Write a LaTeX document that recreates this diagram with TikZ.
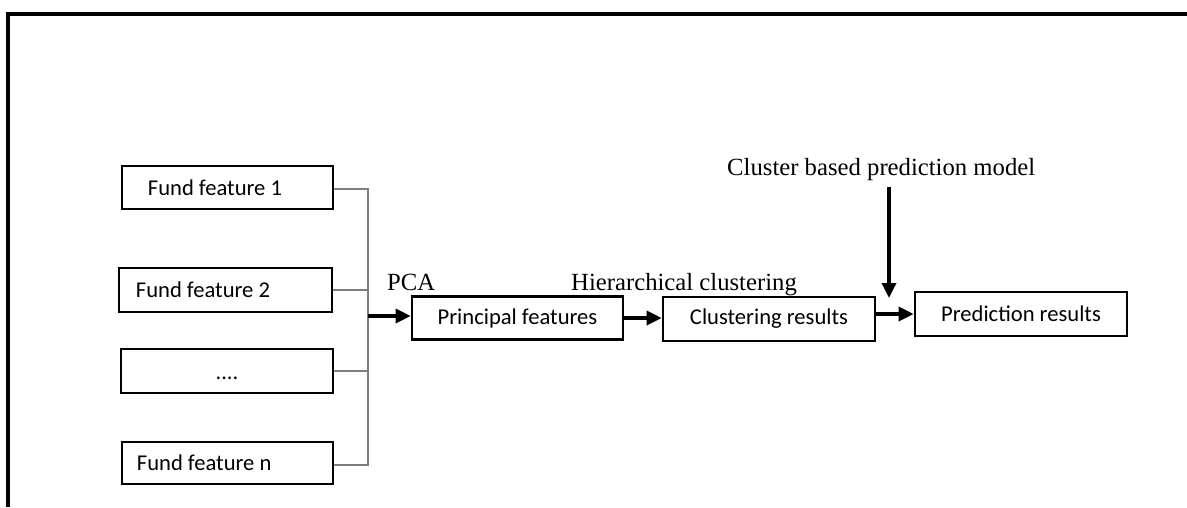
\documentclass[tikz,border=0pt]{standalone}
\usepackage{fontspec}
\setmainfont{Liberation Serif}
\newfontfamily\boxfont{Carlito}
\usetikzlibrary{arrows.meta}
\definecolor{bus}{HTML}{7F7F7F}
\tikzset{
  box/.style={draw=black, line width=2.6pt, fill=white, inner sep=0pt},
  boxtext/.style={font=\boxfont\fontsize{22.6}{26}\selectfont, inner sep=0pt},
  lbl/.style={font=\fontsize{24.7}{28}\selectfont, inner sep=0pt, anchor=base west},
  busline/.style={draw=bus, line width=1.6pt},
  arr/.style={draw=black, line width=3.4pt, -{Triangle[length=15pt,width=14pt]}},
}
\begin{document}
\begin{tikzpicture}[x=1pt,y=-1pt]
\useasboundingbox (0,0) rectangle (1187,507);
% frame
\draw[line width=3.6pt] (8,507) -- (8,14) -- (1187,14);
% fund feature boxes
\node[box, minimum width=211pt, minimum height=43pt] (f1) at (227.5,187.5) {};
\node[boxtext, anchor=west] (t1) at ([xshift=27pt]f1.west) {Fund feature 1};
\node[box, minimum width=213pt, minimum height=44pt] (f2) at (225.5,290) {};
\node[boxtext, anchor=west] (t2) at ([xshift=18pt]f2.west) {Fund feature 2};
\node[box, minimum width=212pt, minimum height=44pt] (f3) at (227,371) {};
\node[boxtext, anchor=base] (t3) at (227,379) {....};
\node[box, minimum width=211pt, minimum height=42pt] (f4) at (227.5,463) {};
\node[boxtext, anchor=west] (t4) at ([xshift=16pt]f4.west) {Fund feature n};
% main chain
\node[box, minimum width=211pt, minimum height=43pt, boxtext] (pf) at (517.5,318) {Principal features};
\node[box, minimum width=212pt, minimum height=44pt, boxtext] (cl) at (769,319) {Clustering results};
\node[box, minimum width=212pt, minimum height=44pt, boxtext] (pr) at (1021,314) {Prediction results};
% bus
\coordinate (bt) at (368,189);
\coordinate (bb) at (368,465);
\coordinate (bo) at (368,316);
\draw[busline] (f1.east |- bt) -- (bt) -- (bb) -- (f4.east |- bb);
\draw[busline] (f2.east) -- (f2.east -| bt);
\draw[busline] (f3.east) -- (f3.east -| bt);
% labels
\node[lbl] (pca) at (387,290) {PCA};
\node[lbl] (hc) at (571,290) {Hierarchical clustering};
\node[lbl] (cbp) at (727,175) {Cluster based prediction model};
% arrows
\draw[arr] (bo) -- (pf.west |- bo);
\draw[arr] (pf.east) -- (cl.west |- pf.east);
\draw[arr] (cl.east |- pr.west) -- (pr.west);
\coordinate (vtip) at (889,298);
\draw[arr] ([yshift=-7pt]cbp.south -| vtip) -- (vtip);
\end{tikzpicture}
\end{document}
